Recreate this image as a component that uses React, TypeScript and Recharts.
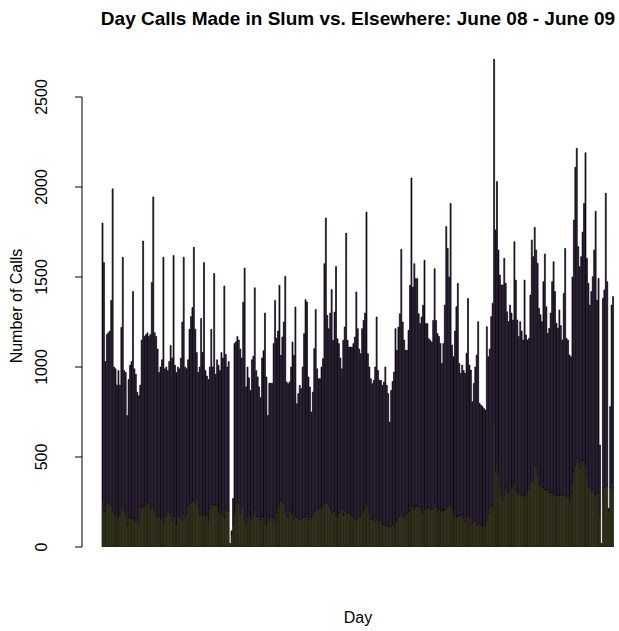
import React from 'react';
import { BarChart, Bar, XAxis, YAxis, ReferenceLine } from 'recharts';

// Total calls per day (slum + elsewhere), June 08 - June 09
const dailyTotal: number[] = [
  1800, 1580, 1030, 1180, 1190, 1200, 1370,
  1990, 1000, 990, 900, 980, 900, 1220,
  1610, 980, 970, 730, 930, 1010, 1030,
  1420, 990, 960, 860, 840, 900, 1150,
  1700, 1170, 1180, 1190, 1170, 1180, 1470,
  1945, 1190, 1170, 1100, 970, 1000, 1040,
  1610, 990, 1000, 980, 1030, 1120, 1050,
  1620, 1010, 970, 1000, 990, 1050, 1250,
  1610, 1000, 990, 1040, 1210, 1280, 1330,
  1665, 1210, 1080, 970, 1000, 1270, 1080,
  1580, 980, 950, 930, 1000, 1210, 1000,
  1520, 960, 1040, 1010, 980, 1080, 1050,
  1450, 1070, 1000, 1030, 20, 90, 270,
  1130, 1140, 1170, 1150, 1100, 1050, 1360,
  1550, 890, 1000, 940, 870, 1040, 1060,
  1440, 980, 945, 890, 830, 1050, 1090,
  1300, 945, 730, 910, 910, 910, 1130,
  1370, 1160, 1200, 1454, 1065, 1167, 1250,
  1504, 917, 907, 917, 1000, 1139, 1065,
  1333, 796, 852, 898, 880, 1000, 1185,
  1374, 1361, 944, 889, 750, 861, 1102,
  1319, 990, 935, 935, 1000, 1046, 1574,
  1828, 1287, 1213, 1300, 1430, 1148, 1305,
  1559, 1157, 1130, 1050, 990, 1148, 1222,
  1744, 1148, 1111, 1111, 1111, 1130, 1167,
  1417, 1213, 1100, 1074, 1213, 1259, 1300,
  1861, 1074, 1000, 935, 907, 926, 1000,
  1278, 981, 926, 926, 898, 917, 1000,
  898, 852, 694, 870, 920, 972, 1213,
  1093, 1222, 1296, 1654, 1250, 1150, 1093,
  1093, 1204, 1454, 2050, 1444, 1574, 1491,
  1491, 1296, 1241, 1278, 1343, 1593, 1241,
  1241, 1157, 1148, 1139, 1259, 1546, 1259,
  1185, 1170, 1130, 1020, 1131, 1344, 1780,
  1659, 1500, 1909, 1122, 1057, 1200, 1335,
  1465, 1020, 965, 1011, 980, 965, 1076,
  1381, 1011, 983, 807, 909, 1000, 1067,
  1252, 798, 789, 780, 770, 761, 1224,
  1057, 1100, 1280, 1354, 2710, 1761, 2030,
  1650, 1511, 1456, 1456, 1604, 1465, 1307,
  1252, 1344, 1300, 1261, 1696, 1483, 1261,
  1169, 1252, 1200, 1150, 1483, 1178, 1150,
  1159, 1400, 1706, 1613, 1776, 1650, 1576,
  1326, 1290, 1252, 1474, 1628, 1335, 1187,
  1215, 1300, 1474, 1585, 1419, 1243, 1215,
  1317, 1230, 1150, 1409, 1659, 1159, 1150,
  1067, 1057, 1500, 1817, 2110, 2215, 1669,
  1557, 1613, 1750, 1909, 2190, 1604, 1465,
  1344, 1419, 1502, 1650, 1865, 1372, 1493,
  567, 20, 1381, 1428, 1965, 1474, 215,
  780, 1344, 1391,
];

// Calls made in the slum per day
const dailySlum: number[] = [
  252, 200, 195, 240, 245, 250, 233,
  200, 188, 180, 175, 170, 180, 233,
  210, 195, 180, 122, 167, 160, 160,
  160, 150, 141, 160, 130, 222, 222,
  225, 233, 260, 250, 240, 213, 230,
  222, 204, 175, 167, 175, 158, 167,
  130, 175, 170, 204, 195, 175, 148,
  167, 175, 130, 175, 175, 160, 148,
  185, 167, 185, 233, 250, 245, 255,
  260, 245, 270, 222, 175, 185, 175,
  185, 180, 175, 148, 210, 240, 235,
  235, 235, 230, 200, 190, 190, 180,
  165, 210, 210, 200, 20, 70, 130,
  190, 245, 270, 245, 190, 220, 235,
  150, 130, 170, 180, 165, 150, 180,
  210, 170, 165, 170, 150, 170, 165,
  135, 130, 170, 150, 168, 165, 160,
  140, 187, 233, 250, 261, 255, 243,
  196, 168, 160, 205, 195, 187, 160,
  178, 165, 168, 150, 160, 165, 168,
  168, 187, 168, 150, 165, 178, 196,
  205, 215, 215, 224, 220, 235, 243,
  250, 245, 233, 215, 187, 196, 205,
  180, 168, 190, 205, 215, 178, 205,
  195, 187, 196, 185, 178, 168, 160,
  150, 168, 168, 170, 195, 205, 220,
  243, 224, 190, 155, 155, 160, 145,
  160, 131, 150, 165, 130, 125, 122,
  118, 113, 118, 113, 128, 115, 135,
  150, 168, 178, 196, 168, 160, 180,
  187, 195, 205, 230, 224, 210, 225,
  228, 224, 220, 205, 187, 215, 210,
  222, 215, 210, 208, 212, 243, 224,
  196, 215, 205, 200, 205, 205, 215,
  224, 240, 233, 215, 190, 180, 172,
  168, 178, 175, 178, 160, 140, 165,
  180, 175, 160, 131, 150, 140, 120,
  125, 135, 122, 113, 131, 122, 150,
  187, 225, 233, 224, 690, 428, 465,
  409, 335, 300, 261, 289, 326, 307,
  298, 354, 326, 340, 354, 317, 298,
  307, 285, 298, 290, 280, 289, 307,
  326, 354, 372, 372, 455, 445, 400,
  344, 350, 330, 330, 320, 316, 320,
  305, 300, 300, 290, 298, 285, 290,
  285, 290, 285, 290, 290, 275, 285,
  265, 300, 350, 417, 455, 494, 474,
  440, 470, 483, 483, 450, 409, 335,
  330, 316, 316, 300, 289, 300, 300,
  180, 20, 300, 330, 340, 344, 200,
  330, 354, 320,
];

const yTicks: number[] = [0, 500, 1000, 1500, 2000, 2500];

const TITLE = 'Day Calls Made in Slum vs. Elsewhere: June 08 - June 09';
const X_LABEL = 'Day';
const Y_LABEL = 'Number of Calls';

const FONT = '"Liberation Sans", Arial, Helvetica, sans-serif';
const SLUM_COLOR = '#55520a';
const ELSEWHERE_COLOR = '#2c0c48';
const BORDER = '#000000';

const data = dailyTotal.map((total, i) => ({
  day: i + 1,
  slum: dailySlum[i],
  elsewhere: total - dailySlum[i],
}));

const YTick = (props: any) => {
  const { y, payload } = props;
  return (
    <text
      transform={`translate(47, ${y}) rotate(-90)`}
      textAnchor="middle"
      fontSize={16}
      fontFamily={FONT}
      fill="#000"
    >
      {payload.value}
    </text>
  );
};

export default function App() {
  return (
    <div style={{ position: 'absolute', left: 0, top: 0, width: 619, height: 631, background: '#fff', overflow: 'hidden' }}>
      <BarChart
        width={619}
        height={631}
        data={data}
        margin={{ top: 7, right: 0, bottom: 84, left: 0 }}
        barCategoryGap={0}
        barGap={0}
      >
        <XAxis dataKey="day" hide padding={{ left: 20, right: 5 }} />
        <XAxis xAxisId="frame" type="number" domain={[0, 1]} hide />
        <YAxis
          domain={[0, 3000]}
          ticks={yTicks}
          interval={0}
          width={82}
          axisLine={false}
          tickLine={{ stroke: '#000' }}
          tickSize={7}
          tick={<YTick />}
          allowDataOverflow
        />
        <Bar dataKey="slum" stackId="a" fill={SLUM_COLOR} stroke={BORDER} strokeWidth={0.65} isAnimationActive={false} />
        <Bar dataKey="elsewhere" stackId="a" fill={ELSEWHERE_COLOR} stroke={BORDER} strokeWidth={0.65} isAnimationActive={false} />
        <ReferenceLine
          xAxisId="frame"
          segment={[{ x: 0, y: 0 }, { x: 0, y: 2500 }]}
          stroke="#000"
          ifOverflow="visible"
        />
      </BarChart>
      <div style={{ position: 'absolute', left: 0, width: 716, top: 8, textAlign: 'center', fontFamily: FONT, fontWeight: 'bold', fontSize: 19, lineHeight: '22px', color: '#000', whiteSpace: 'nowrap' }}>
        {TITLE}
      </div>
      <div style={{ position: 'absolute', left: 0, width: 716, top: 608, textAlign: 'center', fontFamily: FONT, fontSize: 16, lineHeight: '20px', color: '#000' }}>
        {X_LABEL}
      </div>
      <div style={{ position: 'absolute', left: 17, top: 306, width: 0, height: 0 }}>
        <div style={{ position: 'absolute', left: -100, top: -10, width: 200, textAlign: 'center', transform: 'rotate(-90deg)', fontFamily: FONT, fontSize: 16, lineHeight: '20px', color: '#000', whiteSpace: 'nowrap' }}>
          {Y_LABEL}
        </div>
      </div>
    </div>
  );
}
